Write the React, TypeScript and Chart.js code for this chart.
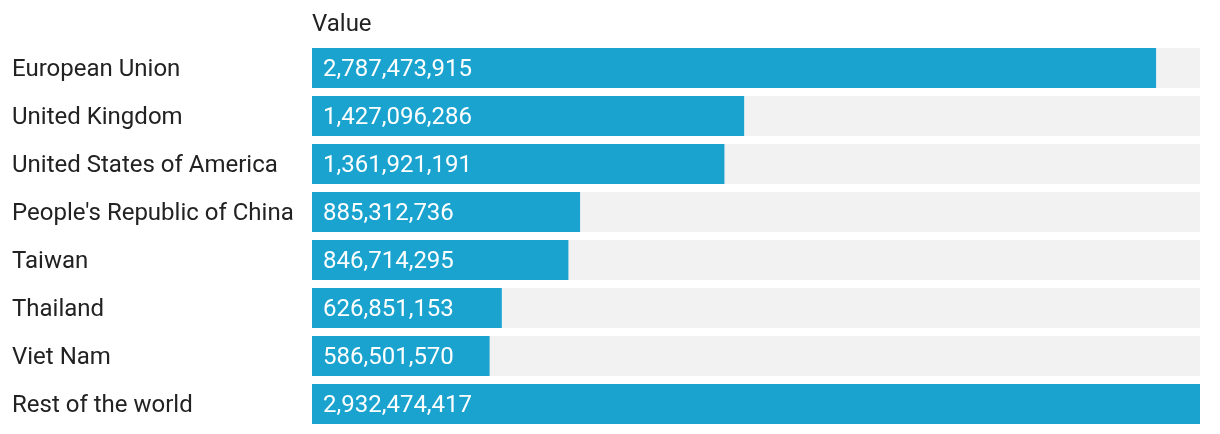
import React, { useEffect, useRef } from "react";
import { Chart, registerables } from "chart.js";

Chart.register(...registerables);

const categories = [
  "European Union",
  "United Kingdom",
  "United States of America",
  "People's Republic of China",
  "Taiwan",
  "Thailand",
  "Viet Nam",
  "Rest of the world",
];

const values = [
  2787473915, 1427096286, 1361921191, 885312736, 846714295, 626851153,
  586501570, 2932474417,
];

const seriesName = "Value";

const BLUE = "#1aa3cf";
const TRACK = "#f2f2f2";
const TEXT = "#222222";
const FONT = "Roboto";
const FS = 24;

const fmt = (v: number) => v.toLocaleString("en-US");

const trackPlugin = {
  id: "track",
  beforeDatasetsDraw(chart: any) {
    const { ctx, chartArea } = chart;
    const meta = chart.getDatasetMeta(0);
    ctx.save();
    ctx.fillStyle = TRACK;
    meta.data.forEach((bar: any) => {
      const h = bar.height;
      ctx.fillRect(chartArea.left, bar.y - h / 2, chartArea.right - chartArea.left, h);
    });
    ctx.restore();
  },
};

const labelPlugin = {
  id: "valueLabels",
  afterDatasetsDraw(chart: any) {
    const { ctx } = chart;
    const meta = chart.getDatasetMeta(0);
    ctx.save();
    ctx.fillStyle = "#ffffff";
    ctx.font = `${FS}px ${FONT}`;
    ctx.textAlign = "left";
    ctx.textBaseline = "middle";
    meta.data.forEach((bar: any, i: number) => {
      ctx.fillText(fmt(values[i]), bar.base + 11, bar.y + 1.5);
    });
    ctx.restore();
  },
};

export default function App() {
  const ref = useRef<HTMLCanvasElement>(null);
  useEffect(() => {
    document.body.style.margin = "0";
    const chart = new Chart(ref.current!, {
      type: "bar",
      data: {
        labels: categories,
        datasets: [
          {
            label: seriesName,
            data: values,
            backgroundColor: BLUE,
            barPercentage: 1,
            categoryPercentage: 40 / 48,
          },
        ],
      },
      options: {
        indexAxis: "y",
        responsive: false,
        animation: false,
        layout: { padding: { left: 12, right: 20, top: 0, bottom: 6 } },
        plugins: {
          legend: { display: false },
          tooltip: { enabled: false },
        },
        scales: {
          x: {
            position: "top",
            min: 0,
            max: values[values.length - 1],
            grid: { display: false, drawTicks: false, tickLength: 0 },
            border: { display: false },
            ticks: { display: false },
            title: {
              display: true,
              text: seriesName,
              align: "start",
              color: TEXT,
              font: { family: FONT, size: FS },
              padding: { top: 11, bottom: 4.2 },
            },
            afterFit: (scale: any) => {
              scale.paddingLeft = 0;
              scale.paddingRight = 0;
            },
          },
          y: {
            grid: { display: false },
            border: { display: false },
            ticks: {
              crossAlign: "far",
              color: TEXT,
              font: { family: FONT, size: FS },
              padding: 0,
              labelOffset: 1.5,
            },
            afterFit: (scale: any) => {
              scale.width = 300;
              scale.paddingTop = 0;
              scale.paddingBottom = 0;
            },
          },
        },
      },
      plugins: [trackPlugin, labelPlugin],
    });
    return () => chart.destroy();
  }, []);
  return (
    <div style={{ width: 1220, height: 434 }}>
      <canvas ref={ref} width={1220} height={434} />
    </div>
  );
}
